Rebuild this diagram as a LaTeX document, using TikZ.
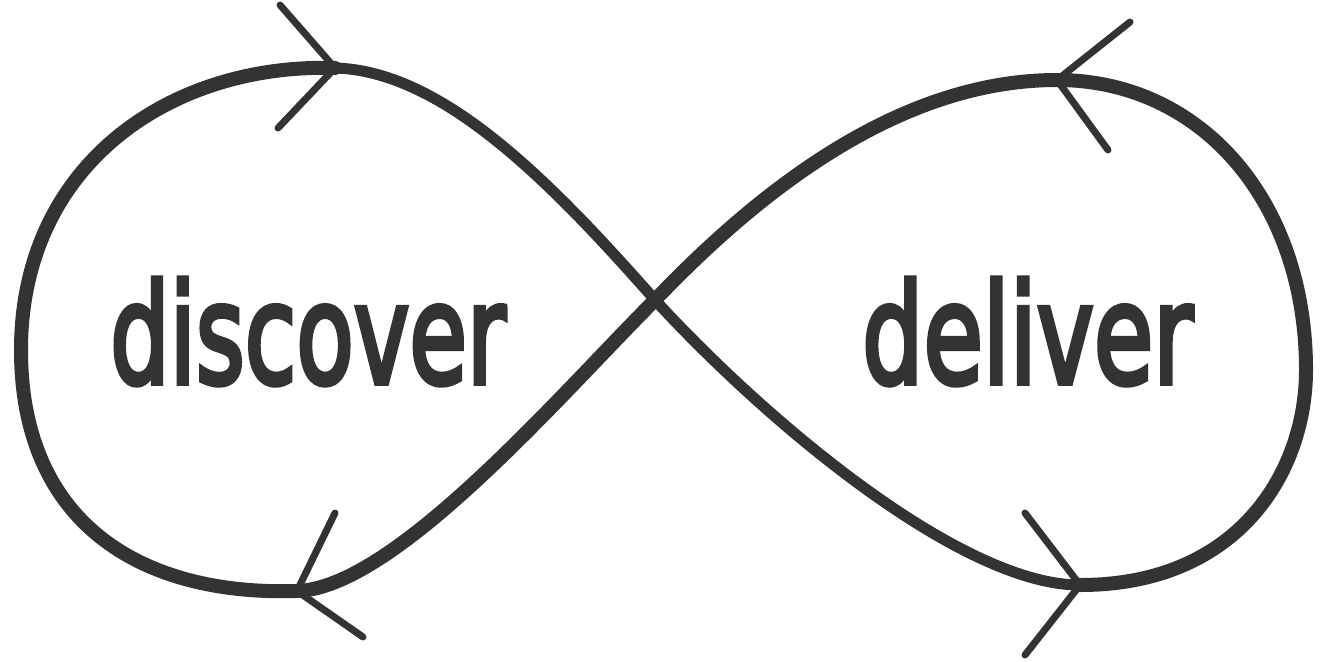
\documentclass[tikz,border=0pt]{standalone}
\usepackage{fontspec}
\setmainfont{DejaVu Sans}
\usepackage{graphicx}
\usetikzlibrary{positioning}
\definecolor{inkgray}{RGB}{51, 51, 51}
\tikzset{
  loopline/.style={draw=inkgray, line width=#1, line cap=round},
  barb/.style={draw=inkgray, line width=7pt, line cap=round, line join=miter},
  word/.style={text=inkgray,
               font=\fontsize{138}{150}\selectfont\addfontfeature{FakeBold=4},
               anchor=base west, inner sep=0pt},
}

\begin{document}
\begin{tikzpicture}[x=1pt, y=-1pt]
  \useasboundingbox (0,0) rectangle (1321,661);
  % fixed points of the loop (arrow tips)
  \coordinate (cross) at (655,300);
  \coordinate (ltop) at (335,68);
  \coordinate (lbot) at (297,591);
  \coordinate (rtop) at (1057,80);
  \coordinate (rbot) at (1080,585);
  % left loop outer arc
  \draw[loopline=14pt] (ltop) .. controls (170,63) and (21,165) .. (21,350)
    .. controls (21,520) and (137,596) .. (lbot);
  % right loop outer arc
  \draw[loopline=14pt] (rbot) .. controls (1240,585) and (1306,470) .. (1306,370)
    .. controls (1306,200) and (1200,80) .. (rtop);
  % thin diagonal
  \draw[loopline=11pt] (ltop) .. controls (440,71) and (545,175) .. (cross)
    .. controls (765,420) and (960,585) .. (rbot);
  % thick diagonal
  \draw[loopline=14pt] (rtop) .. controls (900,80) and (760,190) .. (cross)
    .. controls (560,395) and (395,588) .. (lbot);
  % direction marks
  \draw[barb] (280,5) -- (ltop) -- (278,128);
  \draw[barb] (1130,22) -- (rtop) -- (1108,150);
  \draw[barb] (335,513) -- (lbot) -- (363,637);
  \draw[barb] (1025,513) -- (rbot) -- (1025,655);
  % labels
  \node[word] (disc) at (110,383) {\scalebox{0.68}[1]{discover}};
  \node[word] (deli) at (862,383) {\scalebox{0.70}[1]{deliver}};
\end{tikzpicture}
\end{document}
